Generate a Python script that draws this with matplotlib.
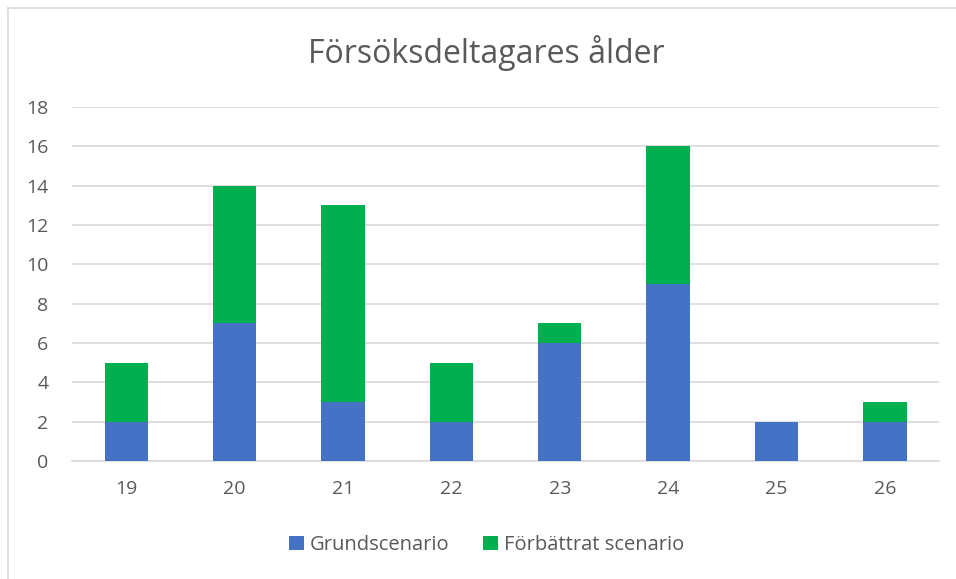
import numpy as np
import matplotlib
matplotlib.use("Agg")
from matplotlib import pyplot as plt
from matplotlib.lines import Line2D

# data
ages = ["19", "20", "21", "22", "23", "24", "25", "26"]
grund = [2, 7, 3, 2, 6, 9, 2, 2]
forbattrat = [3, 7, 10, 3, 1, 7, 0, 1]

plt.rcParams['font.family'] = ['Open Sans', 'DejaVu Sans']
grey = '#595959'

fig = plt.figure(figsize=(9.56, 5.79), dpi=100)
ax = fig.add_axes([0.0753, 0.2038, 0.907, 0.6114])

x = np.arange(len(ages))
ax.bar(x, grund, width=0.40, color='#4472C4', label='Grundscenario', zorder=3)
ax.bar(x, forbattrat, width=0.40, bottom=grund, color='#00B050',
       label='Förbättrat scenario', zorder=3)

ax.set_xlim(-0.5, len(ages) - 0.5)
ax.set_ylim(0, 18)
ax.set_yticks(range(0, 19, 2))
ax.set_xticks(x)
ax.set_xticklabels(ages)
ax.tick_params(length=0, labelsize=14, colors=grey)
ax.tick_params(axis='x', pad=14)
ax.tick_params(axis='y', pad=17)
ax.grid(axis='y', color='#D9D9D9', linewidth=1.2, zorder=0)
for s in ['top', 'right', 'left']:
    ax.spines[s].set_visible(False)
ax.spines['bottom'].set_color('#D9D9D9')
ax.spines['bottom'].set_linewidth(1.2)

fig.text(0.509, 0.908, 'Försöksdeltagares ålder', ha='center', va='center',
         fontsize=23, color=grey)

fig.legend(loc='center', bbox_to_anchor=(0.509, 0.059), ncol=2, frameon=False,
           fontsize=14.5, handlelength=0.7, handleheight=0.7, columnspacing=1.7,
           handletextpad=0.3, labelcolor=grey)

# chart frame: only top and left edges fall inside the image
fig.add_artist(Line2D([7.5 / 956, 1], [1 - 7.5 / 579] * 2, transform=fig.transFigure,
                      color='#D9D9D9', linewidth=1.2))
fig.add_artist(Line2D([7.5 / 956] * 2, [0, 1 - 7.5 / 579], transform=fig.transFigure,
                      color='#D9D9D9', linewidth=1.2))

fig.savefig('out.png', dpi=100)
